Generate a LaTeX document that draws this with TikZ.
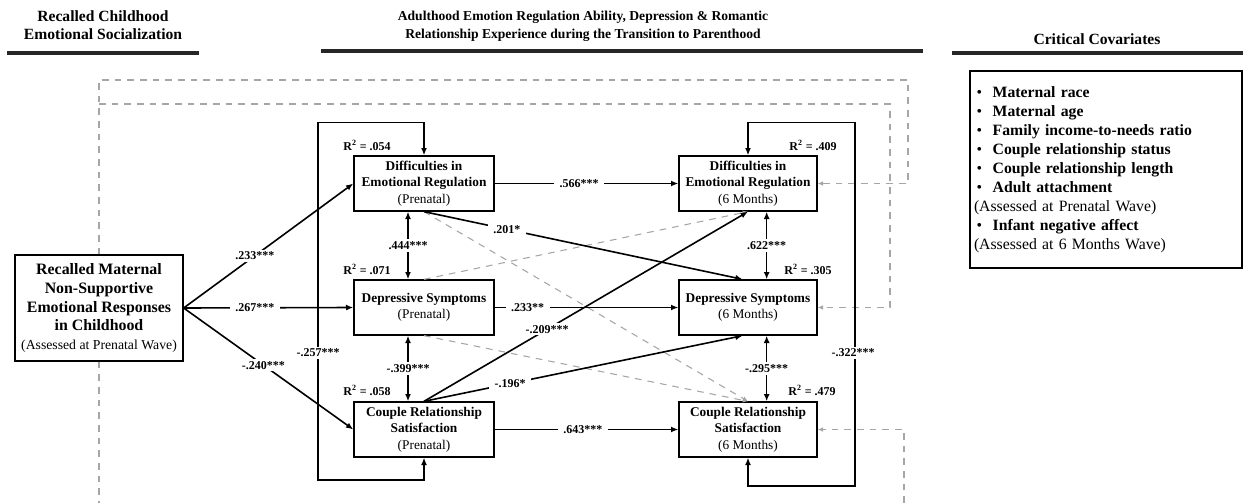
\documentclass[tikz,border=0pt]{standalone}
\usepackage{fontspec}
\setmainfont{Liberation Serif}
\usetikzlibrary{arrows.meta}

\newcommand{\cvitem}[1]{\makebox[12pt][l]{\textbullet}\textbf{#1}}

\begin{document}
\begin{tikzpicture}[x=0.75pt, y=-0.75pt,
    varbox/.style={draw, line width=1pt, align=center, minimum width=105pt,
        minimum height=41.25pt, inner sep=1pt, font=\fontsize{10}{12.4}\selectfont},
    reg/.style={line width=1.2pt, -{Latex[length=5.5pt,width=4.5pt]}},
    corr/.style={line width=1.2pt, {Latex[length=5.5pt,width=4.5pt]}-{Latex[length=5.5pt,width=4.5pt]}},
    ns/.style={gray!70, line width=0.8pt, dash pattern=on 5pt off 4.5pt, -{Latex[length=4pt,width=3.5pt]}},
    covline/.style={gray!70, line width=0.8pt, dash pattern=on 5pt off 4.5pt},
    coef/.style={fill=white, inner xsep=4pt, inner ysep=1.5pt, font=\bfseries\fontsize{9}{10}\selectfont},
    rsq/.style={font=\bfseries\fontsize{9}{10}\selectfont},
    heading/.style={align=center, font=\bfseries\fontsize{11.7}{13.5}\selectfont},
    headrule/.style={line width=2.6pt, black!85}
]
    \useasboundingbox (0,0) rectangle (1243,503);

    % --- headings ---
    \node[heading] (hleft) at (103,25.5) {Recalled Childhood\\Emotional Socialization};
    \node[heading, font=\bfseries\fontsize{10.2}{13.5}\selectfont] (hmid) at (583,26)
        {Adulthood Emotion Regulation Ability, Depression \& Romantic\\Relationship Experience during the Transition to Parenthood};
    \node[heading] (hright) at (1097,39) {Critical Covariates};
    \draw[headrule] (7,53) -- (199,53);
    \draw[headrule] (321,51) -- (923,51);
    \draw[headrule] (952,53) -- (1243,53);

    % --- variables ---
    \node[draw, line width=1pt, align=center, minimum width=126pt, minimum height=79.5pt,
        inner sep=1pt, font=\bfseries\fontsize{11.9}{14.2}\selectfont] (mom) at (99,308)
        {Recalled Maternal\\Non-Supportive\\Emotional Responses\\in Childhood\\
         {\mdseries\fontsize{10.3}{13}\selectfont (Assessed at Prenatal Wave)}};

    \node[varbox] (erP) at (424,183.5) {\textbf{Difficulties in}\\\textbf{Emotional Regulation}\\(Prenatal)};
    \node[varbox] (dsP) at (424,307.5) {\textbf{Depressive Symptoms}\\(Prenatal)};
    \node[varbox] (crsP) at (424,429.5) {\textbf{Couple Relationship}\\\textbf{Satisfaction}\\(Prenatal)};
    \node[varbox, minimum width=103.5pt] (er6) at (748,183.5) {\textbf{Difficulties in}\\\textbf{Emotional Regulation}\\(6 Months)};
    \node[varbox, minimum width=103.5pt] (ds6) at (748,307.5) {\textbf{Depressive Symptoms}\\(6 Months)};
    \node[varbox, minimum width=103.5pt] (crs6) at (748,429.5) {\textbf{Couple Relationship}\\\textbf{Satisfaction}\\(6 Months)};

    % --- covariates ---
    \node[draw, line width=1pt, align=left, text width=194pt, minimum height=147.75pt,
        inner xsep=5pt, font=\fontsize{11.8}{14.25}\selectfont] (cov) at (1106,169.5)
        {\cvitem{Maternal race}\\
         \cvitem{Maternal age}\\
         \cvitem{Family income-to-needs ratio}\\
         \cvitem{Couple relationship status}\\
         \cvitem{Couple relationship length}\\
         \cvitem{Adult attachment}\\
         \hspace*{-2pt}(Assessed at Prenatal Wave)\\
         \cvitem{Infant negative affect}\\
         \hspace*{-2pt}(Assessed at 6 Months Wave)};

    % --- covariate paths (dashed) ---
    \coordinate (split) at (99,104);
    \coordinate (botL) at (99,503);
    \coordinate (botR) at (904,503);
    \draw[ns] (mom.north) |- (908,80) |- (er6.east);
    \draw[ns] (split) -- (890,104) |- (ds6.east);
    \draw[covline] (mom.south) -- (botL);
    \draw[ns] (botR) |- (crs6.east);

    % --- non-significant cross-lags ---
    \draw[ns] (erP.south) -- (crs6.north);
    \draw[ns] (dsP.north) -- (er6.south);
    \draw[ns] (dsP.south) -- (crs6.north);

    % --- residual loops ---
    \draw[corr] (erP.north) -- ++(0,-33) -| (318,480) -| (crsP.south);
    \draw[corr] (er6.north) -- ++(0,-33) -| (855,486) -| (crs6.south);
    \node[coef] (c257) at (318,353) {-.257***};
    \node[coef] (c322) at (853,353) {-.322***};

    % --- paths from childhood ---
    \draw[reg] (mom.east) -- node[coef, pos=0.42] (c233a) {.233***} (erP.west);
    \draw[reg] (mom.east) -- node[coef, pos=0.42] (c267) {.267***} (dsP.west);
    \draw[reg] (mom.east) -- node[coef, pos=0.47] (c240) {-.240***} (crsP.west);

    % --- stability paths ---
    \draw[reg] (erP.east) -- node[coef, pos=0.46] (c566) {.566***} (er6.west);
    \draw[reg] (dsP.east) -- node[coef, pos=0.18] (c233b) {.233**} (ds6.west);
    \draw[reg] (crsP.east) -- node[coef, pos=0.48] (c643) {.643***} (crs6.west);

    % --- within-wave correlations ---
    \draw[corr] ([xshift=-12pt]erP.south) -- node[coef] (c444) {.444***} ([xshift=-12pt]dsP.north);
    \draw[corr] ([xshift=-12pt]dsP.south) -- node[coef] (c399) {-.399***} ([xshift=-12pt]crsP.north);
    \draw[corr] ([xshift=14pt]er6.south) -- node[coef] (c622) {.622***} ([xshift=14pt]ds6.north);
    \draw[corr] ([xshift=14pt]ds6.south) -- node[coef] (c295) {-.295***} ([xshift=14pt]crs6.north);

    % --- significant cross-lags ---
    \draw[reg] (erP.south) -- node[coef, pos=0.26] (c201) {.201*} ([xshift=-4pt]ds6.north);
    \draw[reg] (crsP.north) -- node[coef, pos=0.38] (c209) {-.209***} (er6.south);
    \draw[reg] (crsP.north) -- node[coef, pos=0.27] (c196) {-.196*} ([xshift=-4pt]ds6.south);

    % --- explained variance ---
    \node[rsq] (r1) at (367,145) {R\textsuperscript{2} = .054};
    \node[rsq] (r2) at (367,269) {R\textsuperscript{2} = .071};
    \node[rsq] (r3) at (367,390) {R\textsuperscript{2} = .058};
    \node[rsq] (r4) at (813,145) {R\textsuperscript{2} = .409};
    \node[rsq] (r5) at (808,269) {R\textsuperscript{2} = .305};
    \node[rsq] (r6) at (812,390) {R\textsuperscript{2} = .479};
\end{tikzpicture}
\end{document}
